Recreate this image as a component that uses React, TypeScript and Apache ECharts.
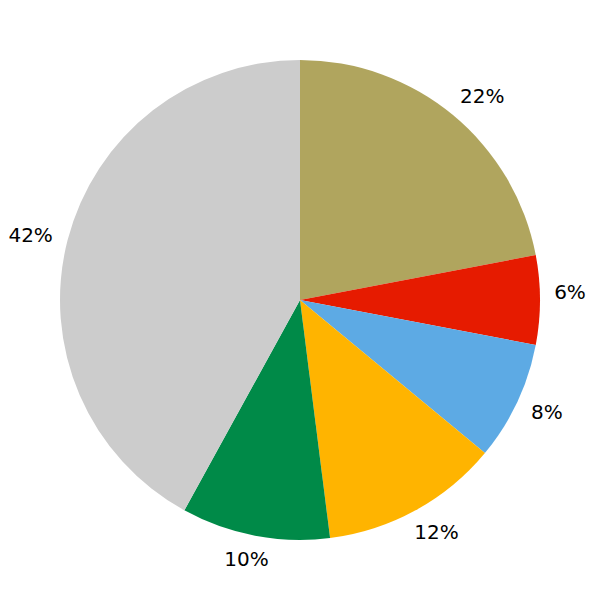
import React, { useEffect, useRef } from "react";
import * as echarts from "echarts";

const categories = ["A", "B", "C", "D", "E", "F"];
const values = [22, 6, 8, 12, 10, 42];
const colors = ["#B0A55E", "#E61B00", "#5DAAE4", "#FFB400", "#008A48", "#CCCCCC"];
// fine label offsets (px) relative to the label ring
const labelNudge: [number, number][] = [
  [7, 8],
  [-5, -8],
  [-2, -5],
  [4, -9],
  [-2, -11],
  [-3, 3],
];

export default function App() {
  const ref = useRef<HTMLDivElement>(null);
  useEffect(() => {
    if (!ref.current) return;
    const chart = echarts.init(ref.current, undefined, { renderer: "svg" });
    const data = categories.map((name, i) => ({
      name,
      value: values[i],
      itemStyle: { color: colors[i] },
    }));
    chart.setOption({
      animation: false,
      backgroundColor: "#ffffff",
      series: [
        {
          type: "pie",
          center: [300, 300],
          radius: [0, 240],
          startAngle: 90,
          clockwise: true,
          silent: true,
          label: { show: false },
          labelLine: { show: false },
          itemStyle: { borderWidth: 0 },
          emphasis: { disabled: true },
          data,
        },
        {
          type: "pie",
          center: [300, 300],
          radius: [262, 282],
          startAngle: 90,
          clockwise: true,
          silent: true,
          itemStyle: { color: "transparent", borderWidth: 0 },
          labelLine: { show: false },
          label: {
            show: true,
            position: "inside",
            formatter: "{c}%",
            color: "#000000",
            fontFamily: "DejaVu Sans",
            fontSize: 20,
          },
          emphasis: { disabled: true },
          data: categories.map((name, i) => ({
            name,
            value: values[i],
            label: { offset: labelNudge[i] },
          })),
        },
      ],
    });
    return () => chart.dispose();
  }, []);
  return (
    <div
      ref={ref}
      style={{ position: "absolute", left: 0, top: 0, width: 600, height: 600 }}
    />
  );
}
